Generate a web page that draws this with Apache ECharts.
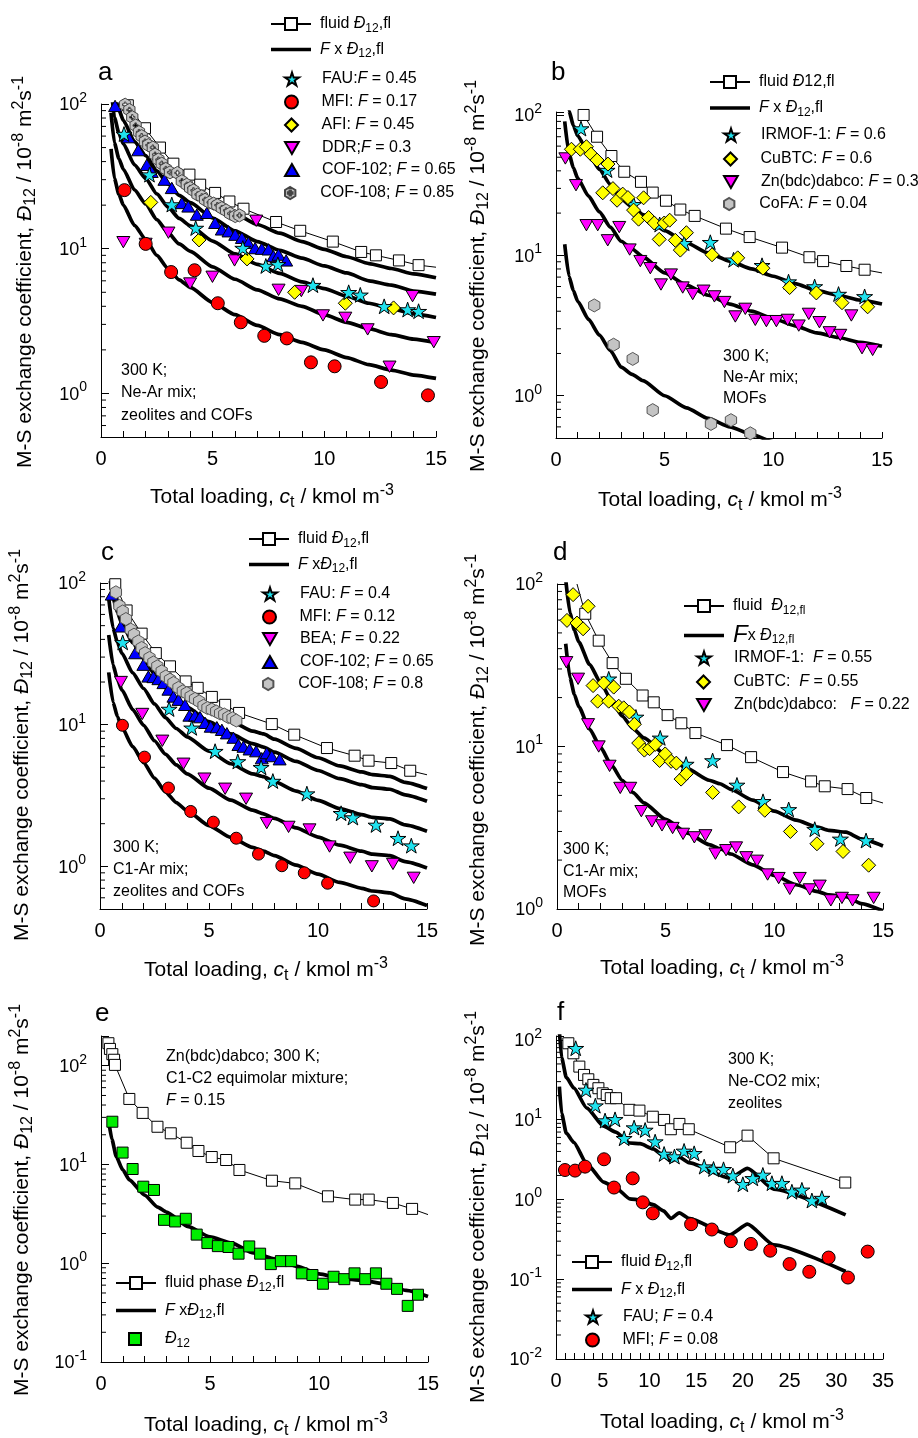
<!DOCTYPE html>
<html>
<head>
<meta charset="utf-8">
<script src="https://cdn.jsdelivr.net/npm/echarts@6/dist/echarts.min.js"></script>
<style>
  html, body { margin: 0; padding: 0; background: #fff; }
  #chart { width: 918px; height: 1438px; }
</style>
</head>
<body>
<div id="chart"></div>
<script>
// ---------- data ----------
// panel a: Ne-Ar, zeolites and COFs
const A_FLUID = [[1.2,98],[1.97,68],[2.64,50],[3.24,38.7],[3.96,32.5],[4.44,27.7],[5.11,24.3],[5.75,21.2],[6.38,18.9],[7.84,15.3],[8.92,13.3],[10.38,11.2],[11.65,9.5],[12.31,9.0],[13.34,8.3],[14.22,7.7]];
const A_FLUID_END = [15, 7.45];
const A_FIT_X   = [0.45, 0.6, 0.8, 1, 1.5, 2, 2.5, 3, 3.5, 4, 5, 6, 7, 8, 9, 10, 11, 12, 13, 14, 15];
const A_FIT_085 = [246, 153, 119, 100, 72, 58, 45, 36.6, 30.6, 27.2, 21.3, 17.4, 14.7, 12.8, 11.2, 9.9, 8.8, 7.9, 7.3, 6.7, 6.3];
const A_FIT_065 = [189, 117, 91, 77, 55, 44, 34.5, 28, 23.4, 20.8, 16.3, 13.3, 11.2, 9.75, 8.6, 7.6, 6.8, 6.0, 5.6, 5.1, 4.85];
const A_FIT_045 = [131, 81, 63, 53, 38, 30.6, 23.9, 19.4, 16.2, 14.4, 11.3, 9.2, 7.8, 6.75, 5.9, 5.3, 4.7, 4.2, 3.85, 3.55, 3.35];
const A_FIT_030 = [87, 54, 42, 35.4, 25.5, 20.4, 15.9, 12.9, 10.8, 9.6, 7.5, 6.15, 5.2, 4.5, 4.0, 3.5, 3.1, 2.8, 2.55, 2.37, 2.24];
const A_FIT_017 = [49, 30.6, 23.8, 20, 14.5, 11.6, 9.0, 7.3, 6.1, 5.4, 4.25, 3.5, 2.95, 2.55, 2.25, 2.0, 1.77, 1.58, 1.45, 1.34, 1.27];
const A_FAU = [[1.03,62],[2.17,32.5],[3.17,20.2],[4.24,13.9],[6.35,10.1],[7.38,7.6],[7.92,7.8],[9.49,5.6],[11.09,5.0],[11.61,4.8],[12.68,4.0],[13.73,3.8],[14.22,3.7]];
const A_MFI = [[1.05,25.4],[2.0,10.8],[3.14,6.9],[4.19,7.1],[5.23,4.2],[6.26,3.1],[7.31,2.5],[8.32,2.4],[9.4,1.64],[10.46,1.54],[12.54,1.2],[14.64,0.97]];
const A_AFI = [[2.23,20.9],[4.39,11.5],[6.54,8.5],[8.67,5.0],[10.94,4.2],[13.1,3.9]];
const A_DDR = [[1.0,11.1],[2.0,10.8],[3.02,12.9],[3.99,5.75],[4.99,6.4],[5.98,8.3],[6.95,15.6],[7.95,5.2],[8.97,5.1],[9.94,3.46],[10.94,3.33],[11.94,2.77],[12.92,1.53],[13.95,4.7],[14.9,2.26]];
const A_COF102 = [[0.63,97],[1.23,59],[1.67,48],[2.05,38],[2.27,34],[2.84,30],[3.17,26.3],[3.62,20.7],[3.91,19.6],[4.29,17.2],[4.74,17.7],[5.11,15.1],[5.41,13.6],[5.71,13.2],[6.01,12.5],[6.31,11.9],[6.6,11],[6.9,10.1],[7.2,10],[7.5,9.9],[7.72,8.9],[7.95,9.1],[8.29,8.3]];
const A_COF108 = [[1.08,99],[1.27,91],[1.4,81],[1.55,71],[1.7,64],[1.82,60],[1.97,55],[2.12,52],[2.32,50],[2.42,44.7],[2.57,41.3],[2.72,38.7],[2.9,35.6],[3.09,33.7],[3.42,33.4],[3.62,29.3],[3.84,27.7],[3.99,26.3],[4.14,25.3],[4.32,23.7],[4.51,23],[4.66,21.8],[4.86,20.9],[5.04,20.5],[5.21,20],[5.41,19.1],[5.6,18.4],[5.78,17.5],[6.01,16.8],[6.2,17]];

// panel b: Ne-Ar, MOFs
const B_FLUID = [[1.27,100],[1.89,70],[2.55,51],[3.14,39.4],[3.91,33.4],[4.45,28],[5.06,24.5],[5.72,21.2],[6.38,19.1],[7.82,15.5],[8.91,13.5],[10.4,11.35],[11.66,9.7],[12.29,9.1],[13.36,8.4],[14.2,7.9]];
const B_FLUID_END = [15, 7.5];
const B_FIT_X   = [0.4, 0.6, 0.8, 1, 1.5, 2, 2.5, 3, 3.5, 4, 5, 6, 7, 8, 9, 10, 11, 12, 13, 14, 15];
const B_FIT_060 = [180, 107, 84, 71, 53, 41, 32, 25.2, 22.2, 19.5, 15, 12.3, 10.4, 9.1, 8.0, 7.1, 6.3, 5.6, 5.2, 4.8, 4.5];
const B_FIT_030 = [90, 53, 42, 35.4, 26.4, 20.4, 15.9, 12.6, 11.1, 9.75, 7.5, 6.15, 5.2, 4.5, 4.0, 3.55, 3.15, 2.8, 2.6, 2.4, 2.25];
const B_FIT_004 = [12, 7.1, 5.6, 4.7, 3.5, 2.7, 2.1, 1.6, 1.42, 1.28, 1.0, 0.82, 0.69, 0.6, 0.53, 0.47, 0.42, 0.38, 0.34, 0.32, 0.3];
const B_IRMOF = [[1.15,80],[2.35,40.5],[3.57,23.1],[4.77,16.6],[5.9,12.2],[7.1,12.4],[8.17,9.3],[9.48,8.5],[10.7,6.5],[11.9,6.0],[13.0,5.3],[14.2,5.1]];
const B_CUBTC = [[0.71,57],[1.12,57],[1.4,59.4],[1.61,52.6],[1.89,47.7],[2.39,44.7],[2.15,27.9],[2.62,29.9],[2.81,24.7],[3.07,27.3],[3.31,25.8],[3.57,21],[3.8,18.1],[4.03,25.7],[4.26,18.6],[4.52,17],[4.75,13],[4.98,17],[5.23,17.8],[5.49,12.8],[5.72,10.9],[6.0,14.5],[7.18,10.1],[8.36,9.6],[9.52,8.1],[10.75,5.9],[11.98,5.4],[13.16,4.6],[14.34,4.3]];
const B_ZN = [[0.43,49],[0.92,31.6],[1.4,16.4],[1.92,16.4],[2.38,12.8],[2.91,15.9],[3.39,11],[3.88,9.1],[4.34,8.1],[4.83,6.2],[5.29,7.3],[5.83,5.9],[6.29,5.3],[6.79,5.6],[7.29,5.1],[7.75,4.65],[8.25,3.67],[8.71,4.16],[9.17,3.47],[9.68,3.4],[10.14,3.4],[10.66,3.47],[11.17,3.16],[11.63,3.83],[12.12,3.34],[12.59,2.83],[13.08,2.71],[13.59,3.73],[14.08,2.18],[14.57,2.12]];
const B_COFA = [[1.76,4.4],[2.65,2.31],[3.53,1.83],[4.45,0.79],[7.13,0.63],[8.05,0.67],[8.94,0.54]];

// panel c: C1-Ar, zeolites and COFs
const C_FLUID = [[0.7,98],[1.22,64],[1.91,43.9],[2.56,32],[3.21,25.8],[3.93,20.2],[4.48,18.2],[5.13,15.7],[5.74,13.8],[6.38,12.1],[7.88,10.1],[8.91,8.5],[10.41,6.84],[11.68,6.04],[12.32,5.57],[13.36,5.36],[14.23,4.73]];
const C_FLUID_END = [15, 4.43];
const C_FIT_X   = [0.4, 0.6, 0.8, 1, 1.5, 2, 2.5, 3, 3.5, 4, 5, 6, 7, 7.5, 8, 9, 10, 11, 12, 12.5, 13.3, 14, 15];
const C_FIT_080 = [156, 96, 76, 64, 46.4, 36, 28, 22.4, 18.8, 16.4, 13, 10.6, 9.0, 8.6, 7.9, 6.8, 5.84, 5.12, 4.64, 4.44, 4.32, 3.92, 3.54];
const C_FIT_065 = [127, 78, 62, 52, 37.7, 29.3, 22.8, 18.2, 15.3, 13.3, 10.5, 8.6, 7.35, 6.95, 6.4, 5.5, 4.75, 4.16, 3.77, 3.6, 3.5, 3.2, 2.88];
const C_FIT_040 = [78, 48, 38, 32, 23.2, 18, 14, 11.2, 9.4, 8.2, 6.5, 5.3, 4.5, 4.3, 3.96, 3.4, 2.92, 2.56, 2.32, 2.22, 2.16, 1.96, 1.77];
const C_FIT_022 = [43, 26.4, 20.9, 17.6, 12.8, 9.9, 7.7, 6.2, 5.2, 4.5, 3.56, 2.93, 2.49, 2.35, 2.18, 1.87, 1.61, 1.41, 1.28, 1.22, 1.19, 1.08, 0.975];
const C_FIT_012 = [23.4, 14.4, 11.4, 9.6, 7.0, 5.4, 4.2, 3.36, 2.82, 2.46, 1.94, 1.6, 1.36, 1.28, 1.19, 1.02, 0.88, 0.77, 0.7, 0.67, 0.65, 0.59, 0.53];
const C_FAU = [[1.04,38.1],[3.17,12.9],[4.21,9.5],[5.28,6.5],[6.32,5.5],[7.39,5.0],[7.93,4.0],[9.49,3.26],[11.06,2.37],[11.6,2.21],[12.66,1.96],[13.67,1.58],[14.28,1.4]];
const C_MFI = [[1.03,9.9],[2.04,5.9],[3.14,3.57],[4.16,2.44],[5.2,2.05],[6.25,1.58],[7.27,1.22],[8.34,1.01],[9.37,0.9],[10.44,0.76],[12.55,0.57]];
const C_BEA = [[0.96,20],[1.94,11.9],[2.86,7.7],[3.83,5.3],[4.79,4.16],[5.74,3.53],[6.7,3.0],[7.65,2.02],[8.65,1.9],[9.61,1.82],[10.53,1.38],[11.48,1.15],[12.47,1.0],[13.44,1.04],[14.39,0.83]];
const C_COF102 = [[0.54,83],[0.95,49.4],[1.61,32],[1.99,26.5],[2.22,21.9],[2.45,21.7],[2.68,21],[2.91,19.7],[3.14,17.7],[3.37,15.8],[3.6,15],[3.9,13.8],[4.1,11.6],[4.36,11.6],[4.59,11.3],[4.82,10.3],[5.08,9.7],[5.36,9.6],[5.59,9.2],[5.82,8.7],[6.12,8.1],[6.35,7.2],[6.58,7.0],[6.86,6.7],[7.16,6.5],[7.42,5.8],[7.65,6.3],[7.88,6.0],[8.24,5.7]];
const C_COF108 = [[0.73,86],[0.89,69],[1.04,63],[1.19,55.7],[1.41,46.9],[1.56,43.2],[1.76,38.7],[1.91,34.8],[2.07,32],[2.27,29.6],[2.45,27.5],[2.63,25.8],[2.83,23.8],[3.02,21.9],[3.21,20.8],[3.37,19.7],[3.6,18.2],[3.8,17.2],[3.98,16.7],[4.16,15.8],[4.36,15.2],[4.55,14.6],[4.75,13.6],[4.93,13.1],[5.13,12.8],[5.33,12.4],[5.51,12],[5.7,11.8],[5.89,11.3],[6.08,11.1],[6.25,10.7]];

// panel d: C1-Ar, MOFs
const D_FLUID_START = [0.92, 100];
const D_FLUID = [[1.3,65.6],[1.92,44.8],[2.56,32.6],[3.17,26.1],[3.94,20.6],[4.45,18.7],[5.09,15.6],[5.72,13.9],[6.37,12.1],[7.82,10.2],[8.93,8.6],[10.4,6.96],[11.69,6.1],[12.32,5.69],[13.37,5.47],[14.23,4.82]];
const D_FLUID_END = [15, 4.49];
const D_FIT_X   = [0.4, 0.6, 0.8, 1, 1.5, 2, 2.5, 3, 3.5, 4, 5, 6, 7, 7.5, 8, 9, 10, 11, 12, 12.5, 13.3, 14, 15];
const D_FIT_055 = [107, 66, 52, 44, 32, 24.8, 19.3, 15.4, 12.9, 11.3, 8.9, 7.3, 6.2, 5.9, 5.45, 4.68, 4.0, 3.52, 3.19, 3.05, 2.97, 2.7, 2.44];
const D_FIT_022 = [42.9, 26.4, 20.9, 17.6, 12.8, 9.9, 7.7, 6.2, 5.2, 4.5, 3.56, 2.93, 2.49, 2.35, 2.18, 1.87, 1.61, 1.41, 1.28, 1.22, 1.19, 1.08, 0.975];
const D_IRMOF = [[2.38,26.1],[3.63,15.2],[4.75,11.3],[5.94,7.8],[7.16,8.2],[8.28,5.8],[9.48,4.6],[10.66,4.1],[11.86,3.1],[13.04,2.7],[14.22,2.64]];
const D_CUBTC = [[0.74,86],[0.46,59.7],[1.43,72.9],[0.92,57.5],[1.2,53],[1.66,23.7],[2.15,24.6],[1.87,19],[2.38,19],[2.61,23.2],[2.84,17.7],[3.07,17.3],[3.33,16.3],[3.56,13.7],[3.76,10.5],[4.02,9.5],[4.26,9.7],[4.52,10.3],[4.72,8.2],[4.98,9.0],[5.25,8.1],[5.49,7.9],[5.71,6.3],[5.95,6.8],[7.16,5.22],[8.36,4.25],[9.56,4.05],[10.74,3.0],[11.96,2.52],[13.16,2.26],[14.34,1.86]];
const D_ZN = [[0.43,33],[0.97,26.1],[1.43,13.7],[1.92,10],[2.42,7.6],[2.91,5.56],[3.37,5.56],[3.88,4.0],[4.37,3.46],[4.83,3.27],[5.32,3.15],[5.8,2.9],[6.32,2.76],[6.83,2.84],[7.29,2.19],[7.78,2.3],[8.24,2.39],[8.71,2.08],[9.2,1.98],[9.69,1.63],[10.2,1.55],[10.71,1.33],[11.17,1.55],[11.63,1.32],[12.09,1.39],[12.6,1.13],[13.11,1.17],[13.6,1.13],[14.57,1.17]];

// panel e: Zn(bdc)dabco, C1-C2
const E_FLUID = [[0.34,169],[0.41,148],[0.52,131],[0.6,115],[0.64,102],[1.3,46.1],[1.91,33.3],[2.59,24.1],[3.2,20.7],[3.93,16.6],[4.47,13.7],[5.08,11.9],[5.74,11.1],[6.35,8.8],[7.84,6.85],[8.91,6.44],[10.41,4.76],[11.66,4.41],[12.28,4.41],[13.39,4.08],[14.27,3.55]];
const E_FLUID_END = [15, 3.11];
const E_FIT_X   = [0.37, 0.5, 0.7, 1, 1.3, 2, 2.6, 3, 4, 5, 6, 7, 8, 9, 10, 11, 12, 13, 14, 15];
const E_FIT_015 = [26, 18, 12, 8.8, 7.0, 4.9, 3.7, 3.3, 2.35, 1.85, 1.6, 1.27, 1.1, 0.93, 0.78, 0.7, 0.67, 0.62, 0.53, 0.46];
const E_D12 = [[0.52,27.1],[0.99,13.2],[1.45,9],[1.94,5.96],[2.43,5.52],[2.89,2.75],[3.4,2.65],[3.89,2.82],[4.39,1.95],[4.88,1.6],[5.36,1.49],[5.85,1.46],[6.31,1.25],[6.8,1.48],[7.3,1.25],[7.79,0.98],[8.25,1.05],[8.72,1.05],[9.21,0.79],[9.7,0.76],[10.18,0.62],[10.67,0.73],[11.16,0.69],[11.63,0.79],[12.12,0.69],[12.61,0.79],[13.09,0.62],[13.58,0.55],[14.07,0.37],[14.54,0.48]];

// panel f: Ne-CO2, zeolites
const F_FLUID = [[1.32,90.8],[1.86,68],[2.5,46.3],[3.0,36.4],[3.46,32.1],[4.0,27.3],[4.54,24.8],[5.0,21.4],[5.43,20.4],[5.86,18.6],[6.43,18.6],[7.86,13.3],[8.93,13],[10.36,10.9],[11.57,9.93],[12.29,7.59],[13.21,8.85],[14.21,7.59],[18.64,4.51],[20.5,6.31],[23.29,3.28],[30.96,1.63]];
const F_FIT_X   = [0.36, 0.6, 1.1, 1.9, 3.3, 5.1, 6.4, 7.9, 9, 10.4, 11.5, 12.3, 13.2, 14.2, 18.6, 20.5, 23.3, 31];
const F_FIT_040 = [130, 60, 34, 25, 14, 8.3, 7.0, 5.1, 5.0, 4.3, 3.55, 3.0, 3.4, 2.9, 1.85, 2.45, 1.35, 0.64];
const F_FIT_008 = [26, 12, 6.8, 5.2, 2.8, 1.65, 1.4, 1.02, 0.99, 0.86, 0.72, 0.58, 0.68, 0.58, 0.36, 0.49, 0.27, 0.125];
const F_FAU = [[2.11,78.7],[3.21,23.6],[4.21,15],[5.25,9.75],[6.32,10.1],[7.29,5.85],[8.36,7.96],[9.54,7.43],[10.61,5.31],[11.57,3.72],[12.68,3.45],[13.71,4.06],[14.79,3.79],[15.86,2.58],[16.86,2.41],[17.93,2.39],[18.93,1.99],[20.0,1.55],[21.07,1.84],[22.14,2.03],[23.11,1.6],[24.18,1.6],[25.25,1.25],[26.32,1.32],[27.39,0.97],[28.46,1.04]];
const F_MFI = [[0.96,2.34],[2.04,2.3],[3.11,2.58],[5.14,3.19],[6.21,1.41],[8.21,1.84],[9.29,0.92],[10.36,0.67],[14.46,0.49],[16.68,0.42],[18.71,0.3],[20.86,0.277],[22.93,0.228],[25.0,0.155],[27.11,0.124],[29.18,0.187],[31.25,0.105],[33.36,0.222]];

// minor tick values of the log axes
const MINOR_TICKS = [0.02,0.03,0.04,0.05,0.06,0.07,0.08,0.09,0.2,0.3,0.4,0.5,0.6,0.7,0.8,0.9,2,3,4,5,6,7,8,9,20,30,40,50,60,70,80,90,200];

// legend / label texts
const LABELS = {
  a_fluid: 'fluid {i|Đ}{sub|12},fl', a_f085: '{i|F} x {i|Đ}{sub|12},fl',
  a_fau: 'FAU:{i|F} = 0.45', a_mfi: 'MFI: {i|F} = 0.17', a_afi: 'AFI: {i|F} = 0.45',
  a_ddr: 'DDR;{i|F} = 0.3', a_cof102: 'COF-102; {i|F} = 0.65', a_cof108: 'COF-108; {i|F} = 0.85',
  b_fluid: 'fluid {i|Đ}12,fl', b_f060: '{i|F} x {i|Đ}{sub|12},fl',
  b_irmof: 'IRMOF-1: {i|F} = 0.6', b_cubtc: 'CuBTC: {i|F} = 0.6', b_zn: 'Zn(bdc)dabco: {i|F} = 0.3', b_cofa: 'CoFA: {i|F} = 0.04',
  c_fluid: 'fluid {i|Đ}{sub|12},fl', c_f080: '{i|F} x{i|Đ}{sub|12},fl',
  c_fau: 'FAU: {i|F} = 0.4', c_mfi: 'MFI: {i|F} = 0.12', c_bea: 'BEA; {i|F} = 0.22',
  c_cof102: 'COF-102; {i|F} = 0.65', c_cof108: 'COF-108; {i|F} = 0.8',
  d_fluid: 'fluid  {i|Đ}{sub|12,fl}', d_f055: '{bigi|F}x {i|Đ}{sub|12,fl}',
  d_irmof: 'IRMOF-1:  {i|F} = 0.55', d_cubtc: 'CuBTC:  {i|F} = 0.55', d_zn: 'Zn(bdc)dabco:   {i|F} = 0.22',
  e_fluid: 'fluid phase {i|Đ}{sub|12},fl', e_f015: '{i|F} x{i|Đ}{sub|12},fl', e_d12: '{i|Đ}{sub|12}',
  f_fluid: 'fluid {i|Đ}{sub|12},fl', f_f040: '{i|F} x {i|Đ}{sub|12},fl',
  f_fau: 'FAU; {i|F} = 0.4', f_mfi: 'MFI; {i|F} = 0.08'
};

// ---------- style ----------
const FF = '"Liberation Sans", Arial, Helvetica, sans-serif';
const CYAN = '#1fe2ee', RED = '#ff0000', YELLOW = '#ffff00', MAGENTA = '#ff00ff',
      BLUE = '#0000ff', GRAY = '#c4c4c4', GREEN = '#00ee00';
const STAR = 'path://M50,0L61.8,35.4L100,35.4L69.1,57.3L80.9,92.7L50,70.8L19.1,92.7L30.9,57.3L0,35.4L38.2,35.4Z';
const DIAMOND = 'path://M50,0L100,50L50,100L0,50Z';
const TRI_UP = 'path://M50,0L100,87L0,87Z';
const TRI_DOWN = 'path://M0,0L100,0L50,87Z';
const HEX = 'path://M50,0L93.3,25L93.3,75L50,100L6.7,75L6.7,25Z';
const HEX_PLUS = 'path://M50,0L93.3,25L93.3,75L50,100L6.7,75L6.7,25Z M44,30L44,44L30,44L30,56L44,56L44,70L56,70L56,56L70,56L70,44L56,44L56,30Z';
const SQUARE = 'path://M0,0H100V100H0Z';
const BAR = 'path://M0,0H40V3.6H0Z';
const LINE_SQUARE = 'path://M0,6H14M26,6H40M14,0H26V12H14Z';

function rich(s) {
  return {
    i: { fontStyle: 'italic', fontSize: s, fontFamily: FF, color: '#000' },
    bigi: { fontStyle: 'italic', fontSize: Math.round(s * 1.5), fontFamily: FF, color: '#000' },
    sub: { fontSize: Math.round(s * 0.75), fontFamily: FF, color: '#000', padding: [Math.round(s * 0.55), 0, 0, 0] },
    sup: { fontSize: Math.round(s * 0.75), fontFamily: FF, color: '#000', padding: [0, 0, Math.round(s * 0.55), 0] }
  };
}

// ---------- grids and axes ----------
const GRIDS = [
  { left: 101, top: 104, width: 335, height: 333 },
  { left: 556, top: 112, width: 326, height: 326 },
  { left: 100, top: 583, width: 327, height: 326 },
  { left: 557, top: 584, width: 326, height: 325 },
  { left: 101, top: 1036, width: 327, height: 326 },
  { left: 556, top: 1036, width: 327, height: 323 }
];
const X_MAX = [15, 15, 15, 15, 15, 35];
const Y_RANGE = [[0.5, 100], [0.5, 105], [0.5, 100], [1, 100], [0.1, 200], [0.01, 112]];

function pow10Label(v) {
  const e = Math.log10(v), r = Math.round(e);
  if (Math.abs(e - r) > 1e-6) return '';
  return '{b|10}{sup|' + r + '}';
}

const xAxes = GRIDS.map((g, i) => ({
  type: 'value', gridIndex: i, min: 0, max: X_MAX[i], interval: 5,
  axisLine: { show: true, onZero: false, lineStyle: { color: '#000', width: 1 } },
  axisTick: { show: true, inside: true, length: 6, lineStyle: { color: '#000' } },
  minorTick: { show: true, splitNumber: 5, length: 6, lineStyle: { color: '#000' } },
  splitLine: { show: false },
  axisLabel: { fontSize: 20, color: '#000', fontFamily: FF, margin: 12 }
}));
const yAxes = GRIDS.map((g, i) => ({
  type: 'log', logBase: 10, gridIndex: i, min: Y_RANGE[i][0], max: Y_RANGE[i][1],
  axisLine: { show: true, onZero: false, lineStyle: { color: '#000', width: 1 } },
  axisTick: { show: true, inside: true, length: 8, lineStyle: { color: '#000' } },
  splitLine: { show: false },
  axisLabel: {
    formatter: pow10Label, margin: 14, color: '#000',
    rich: {
      b: { fontSize: 18, fontFamily: FF, color: '#000', padding: [3, 0, 0, 0] },
      sup: { fontSize: 14, fontFamily: FF, color: '#000', padding: [0, 0, 12, 0] }
    }
  }
}));

// ---------- series ----------
const series = [];
function zip(xs, ys) { return xs.map((x, k) => [x, ys[k]]); }
function fit(name, g, xs, ys) {
  series.push({
    type: 'line', name, xAxisIndex: g, yAxisIndex: g, data: zip(xs, ys),
    symbol: 'none', smooth: 0.2, smoothMonotone: 'x', clip: true, silent: true, z: 2,
    lineStyle: { color: '#000', width: 3.7 }, itemStyle: { color: '#000' }
  });
}
function fluid(name, g, pts, start, end) {
  const data = pts.slice();
  if (start) data.unshift({ value: start, symbol: 'none' });
  if (end) data.push({ value: end, symbol: 'none' });
  series.push({
    type: 'line', name, xAxisIndex: g, yAxisIndex: g, data,
    symbol: 'rect', symbolSize: 11, showAllSymbol: true, clip: true, silent: true, z: 3,
    lineStyle: { color: '#000', width: 1 },
    itemStyle: { color: '#fff', borderColor: '#000', borderWidth: 1 }
  });
}
function dots(name, g, pts, symbol, size, color, border) {
  series.push({
    type: 'scatter', name, xAxisIndex: g, yAxisIndex: g, data: pts,
    symbol, symbolSize: size, symbolKeepAspect: true, clip: true, silent: true, z: 4,
    itemStyle: { color, borderColor: border || '#000', borderWidth: 1, opacity: 1 }
  });
}
function minorTicks(g) {
  const [lo, hi] = Y_RANGE[g];
  series.push({
    type: 'custom', xAxisIndex: g, yAxisIndex: g, silent: true, z: 1,
    data: MINOR_TICKS.filter(v => v > lo && v < hi).map(v => [0, v]),
    renderItem: (params, api) => {
      const p = api.coord([api.value(0), api.value(1)]);
      return { type: 'line', shape: { x1: p[0], y1: p[1], x2: p[0] + 5, y2: p[1] },
               style: { stroke: '#000', lineWidth: 1 } };
    }
  });
}

// a
fit('a_f085', 0, A_FIT_X, A_FIT_085); fit('a_f065', 0, A_FIT_X, A_FIT_065);
fit('a_f045', 0, A_FIT_X, A_FIT_045); fit('a_f030', 0, A_FIT_X, A_FIT_030);
fit('a_f017', 0, A_FIT_X, A_FIT_017);
fluid('a_fluid', 0, A_FLUID, null, A_FLUID_END);
dots('a_ddr', 0, A_DDR, TRI_DOWN, 13, MAGENTA);
dots('a_mfi', 0, A_MFI, 'circle', 13, RED);
dots('a_afi', 0, A_AFI, DIAMOND, 14, YELLOW);
dots('a_cof102', 0, A_COF102, TRI_UP, 13, BLUE);
dots('a_fau', 0, A_FAU, STAR, 16, CYAN);
dots('a_cof108', 0, A_COF108, HEX_PLUS, 13, GRAY, '#444');
// b
fit('b_f060', 1, B_FIT_X, B_FIT_060); fit('b_f030', 1, B_FIT_X, B_FIT_030); fit('b_f004', 1, B_FIT_X, B_FIT_004);
fluid('b_fluid', 1, B_FLUID, null, B_FLUID_END);
dots('b_zn', 1, B_ZN, TRI_DOWN, 13, MAGENTA);
dots('b_irmof', 1, B_IRMOF, STAR, 16, CYAN);
dots('b_cubtc', 1, B_CUBTC, DIAMOND, 14, YELLOW);
dots('b_cofa', 1, B_COFA, HEX, 13, GRAY, '#555');
// c
fit('c_f080', 2, C_FIT_X, C_FIT_080); fit('c_f065', 2, C_FIT_X, C_FIT_065);
fit('c_f040', 2, C_FIT_X, C_FIT_040); fit('c_f022', 2, C_FIT_X, C_FIT_022);
fit('c_f012', 2, C_FIT_X, C_FIT_012);
fluid('c_fluid', 2, C_FLUID, null, C_FLUID_END);
dots('c_bea', 2, C_BEA, TRI_DOWN, 13, MAGENTA);
dots('c_mfi', 2, C_MFI, 'circle', 12, RED);
dots('c_cof102', 2, C_COF102, TRI_UP, 13, BLUE);
dots('c_fau', 2, C_FAU, STAR, 16, CYAN);
dots('c_cof108', 2, C_COF108, HEX, 13, GRAY, '#555');
// d
fit('d_f055', 3, D_FIT_X, D_FIT_055); fit('d_f022', 3, D_FIT_X, D_FIT_022);
fluid('d_fluid', 3, D_FLUID, D_FLUID_START, D_FLUID_END);
dots('d_zn', 3, D_ZN, TRI_DOWN, 13, MAGENTA);
dots('d_irmof', 3, D_IRMOF, STAR, 16, CYAN);
dots('d_cubtc', 3, D_CUBTC, DIAMOND, 14, YELLOW);
// e
fit('e_f015', 4, E_FIT_X, E_FIT_015);
fluid('e_fluid', 4, E_FLUID, null, E_FLUID_END);
dots('e_d12', 4, E_D12, SQUARE, 11, GREEN);
// f
fit('f_f040', 5, F_FIT_X, F_FIT_040); fit('f_f008', 5, F_FIT_X, F_FIT_008);
fluid('f_fluid', 5, F_FLUID, null, null);
dots('f_fau', 5, F_FAU, STAR, 16, CYAN);
dots('f_mfi', 5, F_MFI, 'circle', 13, RED);
for (let g = 0; g < 6; g++) minorTicks(g);

// ---------- legends ----------
// line rows of each panel: [fluid series, fit series, icon left, first row centre y, gap between rows]
const LINE_LEGENDS = [
  ['a_fluid', 'a_f085', 270, 22, 7],
  ['b_fluid', 'b_f060', 709, 80, 10],
  ['c_fluid', 'c_f080', 248, 537, 7],
  ['d_fluid', 'd_f055', 683, 604, 7],
  ['e_fluid', 'e_f015', 115, 1281, 9],
  ['f_fluid', 'f_f040', 571, 1260, 9]
];
// marker rows: [series, icon centre x, row centre y, icon height]
const MARKER_ROWS = [
  ['a_fau', 290, 77, 13], ['a_mfi', 290, 100, 13], ['a_afi', 290, 123, 13], ['a_ddr', 290, 146, 12],
  ['a_cof102', 290, 168, 12], ['a_cof108', 290, 191, 12],
  ['b_irmof', 729, 133, 13], ['b_cubtc', 729, 157, 13], ['b_zn', 729, 180, 12], ['b_cofa', 729, 202, 12],
  ['c_fau', 268, 592, 13], ['c_mfi', 268, 615, 13], ['c_bea', 268, 637, 12], ['c_cof102', 268, 660, 12],
  ['c_cof108', 268, 682, 12],
  ['d_irmof', 702, 656, 13], ['d_cubtc', 702, 680, 13], ['d_zn', 702, 703, 12],
  ['e_d12', 134, 1337, 12],
  ['f_fau', 591, 1315, 13], ['f_mfi', 591, 1338, 13]
];
const legendCommon = {
  show: true, orient: 'vertical', padding: 0, itemWidth: 40, selectedMode: false,
  formatter: n => LABELS[n]
};
const legendText = pad => ({ fontSize: 16, fontFamily: FF, color: '#000', padding: [0, 0, 0, pad], rich: rich(16) });
const legends = LINE_LEGENDS.map(([fl, ft, left, cy, gap]) => Object.assign({}, legendCommon, {
  left, top: cy - 6, itemHeight: 14, itemGap: gap,
  data: [{ name: fl, icon: LINE_SQUARE }, { name: ft, icon: BAR }],
  textStyle: legendText(4)
})).concat(MARKER_ROWS.map(([name, x, cy, h]) => Object.assign({}, legendCommon, {
  left: Math.round(x - h / 2), top: Math.round(cy - 6.5), itemHeight: h,
  data: [{ name }],
  textStyle: legendText(5)
})));

// ---------- free text ----------
const graphic = [];
function text(x, y, str, size, opt) {
  graphic.push(Object.assign({
    type: 'text', x, y, silent: true,
    style: Object.assign({
      text: str, fill: '#000', fontSize: size, fontFamily: FF, rich: rich(size),
      align: 'left', textAlign: 'left', verticalAlign: 'top', textVerticalAlign: 'top'
    }, (opt && opt.style) || {})
  }, (opt && opt.el) || {}));
}
const XNAME = 'Total loading, {i|c}{sub|t} / kmol m{sup|-3}';
const YNAME = 'M-S exchange coefficient, {i|Đ}{sub|12} / 10{sup|-8} m{sup|2}s{sup|-1}';
const centre = { align: 'center', textAlign: 'center', verticalAlign: 'middle', textVerticalAlign: 'middle' };
[[272, 497], [720, 500], [266, 970], [722, 968], [266, 1425], [722, 1422]].forEach(([x, y]) =>
  text(x, y, XNAME, 21, { style: centre }));
[[25, 272], [478, 276], [22, 745], [478, 750], [22, 1200], [478, 1207]].forEach(([x, y]) =>
  text(x, y, YNAME, 21, { style: centre, el: { rotation: Math.PI / 2 } }));
const midLeft = { verticalAlign: 'middle', textVerticalAlign: 'middle' };
[['a', 98, 73], ['b', 551, 73], ['c', 101, 553], ['d', 553, 553], ['e', 95, 1014], ['f', 557, 1013]].forEach(([s, x, y]) =>
  text(x, y, s, 26, { style: midLeft }));
text(121, 359, '300 K;\nNe-Ar mix;\nzeolites and COFs', 16, { style: { lineHeight: 22.5 } });
text(723, 346, '300 K;\nNe-Ar mix;\nMOFs', 16, { style: { lineHeight: 21 } });
text(113, 837, '300 K;\nC1-Ar mix;\nzeolites and COFs', 16, { style: { lineHeight: 22 } });
text(563, 839, '300 K;\nC1-Ar mix;\nMOFs', 16, { style: { lineHeight: 21.5 } });
text(166, 1046, 'Zn(bdc)dabco; 300 K;\nC1-C2 equimolar mixture;\n{i|F} = 0.15', 16, { style: { lineHeight: 22 } });
text(728, 1049, '300 K;\nNe-CO2 mix;\nzeolites', 16, { style: { lineHeight: 22 } });

// ---------- chart ----------
const chart = echarts.init(document.getElementById('chart'), null, { renderer: 'canvas' });
chart.setOption({
  animation: false,
  backgroundColor: '#fff',
  textStyle: { fontFamily: FF },
  grid: GRIDS.map(g => Object.assign({ containLabel: false, outerBoundsMode: 'none' }, g)),
  xAxis: xAxes,
  yAxis: yAxes,
  legend: legends,
  series,
  graphic
});
</script>
</body>
</html>
